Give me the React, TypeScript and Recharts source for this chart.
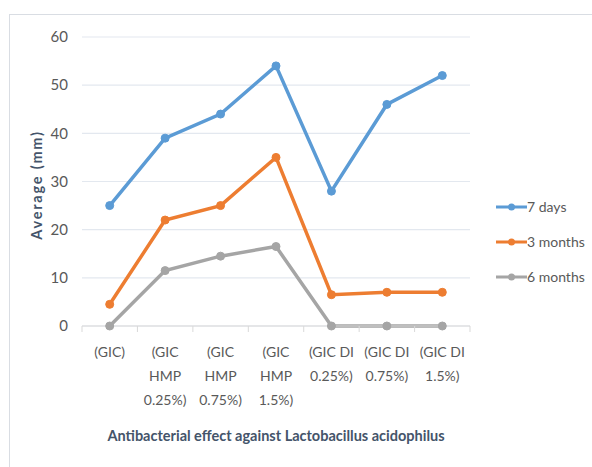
import { LineChart, Line, XAxis, YAxis, CartesianGrid, Label } from "recharts";

const categories = [
  "(GIC)",
  "(GIC\nHMP\n0.25%)",
  "(GIC\nHMP\n0.75%)",
  "(GIC\nHMP\n1.5%)",
  "(GIC DI\n0.25%)",
  "(GIC DI\n0.75%)",
  "(GIC DI\n1.5%)",
];
const days7 = [25, 39, 44, 54, 28, 46, 52];
const months3 = [4.5, 22, 25, 35, 6.5, 7, 7];
const months6 = [0, 11.5, 14.5, 16.5, 0, 0, 0];
const yTicks = [0, 10, 20, 30, 40, 50, 60];

const series = [
  { key: "d7", name: "7 days", color: "#5b9bd5", values: days7 },
  { key: "m3", name: "3 months", color: "#ed7d31", values: months3 },
  { key: "m6", name: "6 months", color: "#a5a5a5", values: months6 },
];

const data = categories.map((c, i) => ({
  name: c,
  d7: days7[i],
  m3: months3[i],
  m6: months6[i],
}));

const FONT = "Lato, 'Open Sans', sans-serif";
const TEXT = "#595959";
const TITLE = "#44546a";
const HALF_BAND = 27.7;

// eslint-disable-next-line @typescript-eslint/no-explicit-any
function CatTick(props: any) {
  const { x, y, payload, index } = props;
  const lines = String(payload.value).split("\n");
  return (
    <g>
      <line x1={x - HALF_BAND} y1={y - 8} x2={x - HALF_BAND} y2={y - 2} stroke="#d9d9d9" />
      {index === categories.length - 1 && (
        <line x1={x + HALF_BAND} y1={y - 8} x2={x + HALF_BAND} y2={y - 2} stroke="#d9d9d9" />
      )}
      <text x={x} y={y + 23} textAnchor="middle" fill={TEXT} fontSize={14} fontFamily={FONT}>
        {lines.map((l, i) => (
          <tspan key={i} x={x} dy={i === 0 ? 0 : 24}>
            {l}
          </tspan>
        ))}
      </text>
    </g>
  );
}

function LegendBox() {
  return (
    <div style={{ fontFamily: FONT, fontSize: 14, color: TEXT }}>
      {series.map((s) => (
        <div key={s.key} style={{ display: "flex", alignItems: "center", height: 35 }}>
          <svg width={31} height={10}>
            <line x1={0} y1={5} x2={31} y2={5} stroke={s.color} strokeWidth={3} />
            <circle cx={15.5} cy={5} r={3.5} fill={s.color} />
          </svg>
          <span>{s.name}</span>
        </div>
      ))}
    </div>
  );
}

export default function App() {
  return (
    <div style={{ position: "absolute", left: 0, top: 0, width: 592, height: 467, overflow: "hidden", background: "#fff" }}>
      <div
        style={{
          position: "absolute",
          left: 9,
          top: 14,
          width: 620,
          height: 480,
          border: "1px solid #d9dde3",
        }}
      />
      <div style={{ position: "absolute", left: 0, top: 0 }}>
        <LineChart width={592} height={467} data={data} margin={{ top: 37, right: 122, bottom: 0, left: 0 }}>
          <CartesianGrid vertical={false} stroke="#e3e8ef" strokeWidth={1.2} />
          <XAxis
            dataKey="name"
            interval={0}
            height={141}
            stroke="#d9d9d9"
            tickLine={false}
            padding={{ left: HALF_BAND, right: HALF_BAND }}
            tick={<CatTick />}
          >
            <Label
              content={() => (
                <text x={276} y={441} textAnchor="middle" fill={TITLE} fontSize={14.5} fontWeight="bold" fontFamily={FONT}>
                  Antibacterial effect against Lactobacillus acidophilus
                </text>
              )}
            />
          </XAxis>
          <YAxis
            width={82}
            domain={[0, 60]}
            ticks={yTicks}
            axisLine={false}
            tickLine={false}
            tickMargin={8}
            tick={{ fill: TEXT, fontSize: 15, fontFamily: FONT }}
          >
            <Label
              content={() => (
                <text
                  x={42}
                  y={185}
                  transform="rotate(-90 42 185)"
                  textAnchor="middle"
                  fill={TITLE}
                  fontSize={14.5}
                  fontWeight="bold"
                  fontFamily={FONT}
                  letterSpacing={1.8}
                >
                  Average (mm)
                </text>
              )}
            />
          </YAxis>
          {series.map((s) => (
            <Line
              key={s.key}
              dataKey={s.key}
              name={s.name}
              stroke={s.color}
              strokeWidth={3.5}
              dot={{ r: 4, fill: s.color, stroke: s.color, strokeWidth: 1 }}
              isAnimationActive={false}
            />
          ))}
        </LineChart>
      </div>
      <div style={{ position: "absolute", left: 496, top: 189 }}>
        <LegendBox />
      </div>
    </div>
  );
}
